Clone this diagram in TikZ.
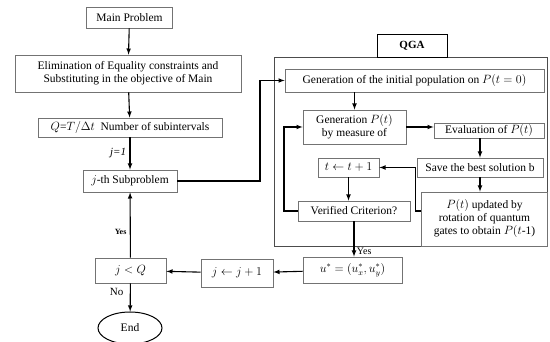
\documentclass[tikz,border=0pt]{standalone}
\usepackage{fontspec}
\setmainfont{Liberation Serif}
\usetikzlibrary{shapes}
\usetikzlibrary{positioning}
\tikzset{
    Box/.style = {rectangle, draw=black!55, line width=0.8pt, align=center, fill=white, inner sep=1pt}
}
\tikzset{
    Edge/.style = {draw=black,line width=1.1pt,-latex}
}

\begin{document}
\begin{tikzpicture}[
    x=1pt, y=-1pt,
    font=\fontsize{11.5}{13}\selectfont
]
\tikzset{
    myend/.style = {ellipse, draw=black, line width=1pt, fill=white},
}
\useasboundingbox (0,0) rectangle (550,342);

% left column
\node[Box, minimum width=86pt, minimum height=21pt] at (129.5,17.5) (main) {Main Problem};
\node[Box, minimum width=226pt, minimum height=37pt] at (128,73.5) (elim) {Elimination of Equality constraints and\\Substituting in the objective of Main};
\node[Box, minimum width=184pt, minimum height=19pt] at (130,127.5) (nsub) {$Q$=$T/\Delta t$\ \ Number of subintervals};
\node[Box, minimum width=94pt, minimum height=22pt] at (130,181) (sub) {$j$-th Subproblem};
\node[Box, minimum width=71pt, minimum height=25pt] at (130.5,270.5) (cond) {$j < Q$};
\node[myend, minimum width=64pt, minimum height=32pt] at (130,328) (endn) {End};
\node[Box, minimum width=72pt, minimum height=28pt] at (237,273) (incj) {$j \leftarrow j+1$};

% QGA block
\draw[black!70, line width=0.8pt] (274,57) rectangle (547.5,246);
\node[Box, draw=black, minimum width=70pt, minimum height=23pt, font=\fontsize{11}{13}\selectfont\bfseries] at (412,45.5) (qga) {QGA};
\node[Box, minimum width=259pt, minimum height=23pt] at (414.5,80.5) (init) {Generation of the initial population on $P(t=0)$};
\node[Box, minimum width=103pt, minimum height=34pt] at (354.5,127) (gen) {Generation $P(t)$\\by measure of};
\node[Box, minimum width=110pt, minimum height=15pt] at (489,130.5) (eval) {Evaluation of $P(t)$};
\node[Box, minimum width=126pt, minimum height=19pt] at (480,167.5) (save) {Save the best solution b};
\node[Box, minimum width=61pt, minimum height=19pt] at (348.5,167.5) (tinc) {$t \leftarrow t+1$};
\node[Box, minimum width=112pt, minimum height=20pt] at (354,211) (verif) {Verified Criterion?};
\node[Box, minimum width=126pt, minimum height=54pt] at (484.5,219) (upd) {$P(t)$ updated by\\rotation of quantum\\gates to obtain $P(t$-1)};
\node[Box, minimum width=99pt, minimum height=26pt] at (352.5,270) (ustar) {$u^{*} = (u_{x}^{*}, u_{y}^{*})$};

% connectors
\path (main) edge [Edge] (elim);
\path (elim) edge [Edge] (nsub);
\path (nsub) edge [Edge] node[left, font=\fontsize{11}{13}\selectfont\itshape] {j=1} (sub);
\draw[Edge] (sub.east) -- (260,181) |- (init.west);
\draw[Edge] (gen.north |- init.south) -- (gen.north);
\draw[Edge] (gen.east) -- (eval.west |- gen.east);
\draw[Edge] (save.north |- eval.south) -- (save.north);
\draw[Edge] (save.south) -- (save.south |- upd.north);
\draw[Edge] (upd.west |- verif) -- ++(-6,0) |- (tinc.east);
\draw[Edge] (tinc.south) -- (tinc.south |- verif.north);
\draw[Edge] (verif.west) -- (284,211) |- (gen.west);
\draw[Edge] (verif.south) -- node[pos=0.85, right=-1pt, font=\fontsize{10}{12}\selectfont] {Yes} (verif.south |- ustar.north);
\path (ustar) edge [Edge] (incj);
\path (incj) edge [Edge] (cond);
\path (cond) edge [Edge] node[pos=0.4, left, font=\fontsize{8}{10}\selectfont\bfseries] {Yes} (sub);
\path (cond) edge [Edge] node[pos=0.3, left=3pt, font=\fontsize{11}{13}\selectfont] {No} (endn);
\end{tikzpicture}
\end{document}
